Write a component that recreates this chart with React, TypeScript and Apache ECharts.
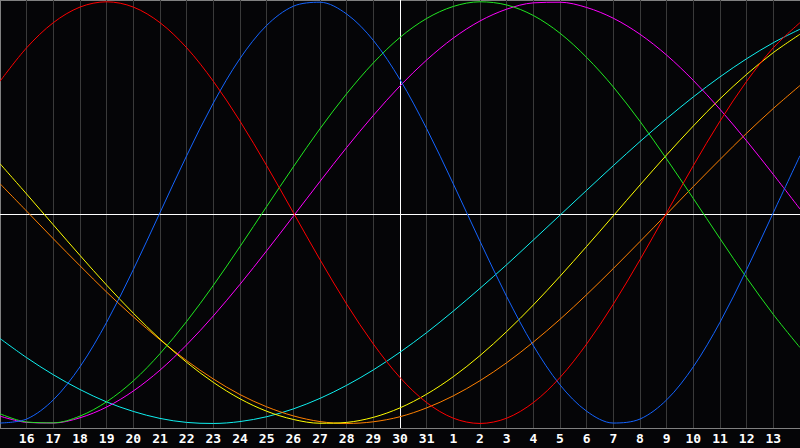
import React, { useEffect, useRef } from "react";
import * as echarts from "echarts";

const days = [
  "15", "16", "17", "18", "19", "20", "21", "22", "23", "24", "25", "26", "27", "28", "29", "30", "31",
  "1", "2", "3", "4", "5", "6", "7", "8", "9", "10", "11", "12", "13", "14",
];

const blueSeries = [
  -99.8, -97.9, -88.8, -73.1, -52.0, -27.0, 0, 27.0, 52.0, 73.1, 88.8, 97.9, 99.8, 94.2, 81.7, 63.1,
  39.8, 13.6, -13.6, -39.8, -63.1, -81.7, -94.2, -99.8, -97.9, -88.8, -73.1, -52.0, -27.0, 0, 27.0,
];
const redSeries = [
  62.3, 78.2, 90.1, 97.5, 100, 97.5, 90.1, 78.2, 62.3, 43.4, 22.3, 0, -22.3, -43.4, -62.3, -78.2,
  -90.1, -97.5, -100, -97.5, -90.1, -78.2, -62.3, -43.4, -22.3, 0, 22.3, 43.4, 62.3, 78.2, 90.1,
];
const greenSeries = [
  -95.4, -99.3, -99.7, -96.5, -89.7, -79.8, -66.9, -51.6, -34.5, -16.1, 2.9, 21.7, 39.8, 56.4, 71.0, 83.1,
  92.1, 97.8, 100.0, 98.5, 93.5, 85.1, 73.6, 59.6, 43.3, 25.4, 6.7, -12.3, -30.9, -48.3, -64.0,
];
const magentaSeries = [
  -96.5, -99.5, -99.8, -97.3, -92.2, -84.6, -74.7, -62.7, -49.0, -34.0, -18.1, -1.7, 14.8, 30.9, 46.1, 60.1,
  72.4, 82.8, 90.9, 96.5, 99.5, 99.8, 97.3, 92.2, 84.6, 74.7, 62.7, 49.0, 34.0, 18.1, 1.7,
];
const cyanSeries = [
  -59.7, -68.8, -76.9, -83.9, -89.8, -94.3, -97.6, -99.5, -100.0, -99.1, -96.8, -93.1, -88.1, -81.9, -74.6, -66.2,
  -56.9, -46.7, -35.9, -24.7, -13.0, -1.2, 10.6, 22.3, 33.7, 44.6, 54.9, 64.4, 73.0, 80.6, 87.0,
];
const yellowSeries = [
  23.2, 8.8, -5.8, -20.3, -34.4, -47.7, -60.0, -71.0, -80.5, -88.3, -94.2, -98.1, -99.9, -99.5, -97.1, -92.6,
  -86.1, -77.8, -67.8, -56.4, -43.8, -30.2, -16.0, -1.5, 13.1, 27.4, 41.1, 54.0, 65.6, 75.9, 84.6,
];
const orangeSeries = [
  13.7, 0.7, -12.4, -25.2, -37.7, -49.4, -60.3, -70.2, -78.9, -86.3, -92.1, -96.4, -99.1, -100.0, -99.2, -96.8,
  -92.6, -86.9, -79.7, -71.2, -61.4, -50.6, -38.9, -26.5, -13.7, -0.7, 12.4, 25.2, 37.7, 49.4, 60.3,
];

const seriesList = [
  { name: "cyan", data: cyanSeries, color: "#10f0f0" },
  { name: "orange", data: orangeSeries, color: "#ff8000" },
  { name: "yellow", data: yellowSeries, color: "#ffff00" },
  { name: "magenta", data: magentaSeries, color: "#ff00ff" },
  { name: "green", data: greenSeries, color: "#20e820" },
  { name: "blue", data: blueSeries, color: "#1464ff" },
  { name: "red", data: redSeries, color: "#ff0000" },
];

const TODAY_INDEX = 15;

export default function App() {
  const ref = useRef<HTMLDivElement>(null);

  useEffect(() => {
    document.body.style.margin = "0";
    const chart = echarts.init(ref.current!, null, { renderer: "svg" });
    const splitColors = days.map((_, i) =>
      i === 0 ? "#808080" : i === TODAY_INDEX ? "#ffffff" : "#3a3a3a"
    );
    chart.setOption({
      animation: false,
      backgroundColor: "#050507",
      grid: { left: 0, right: 0, top: 0, bottom: 20 },
      xAxis: {
        type: "category",
        data: days,
        boundaryGap: false,
        axisLine: { show: true, onZero: false, lineStyle: { color: "#808080", width: 1 } },
        axisTick: { show: false },
        axisLabel: {
          color: "#ffffff",
          fontFamily: "DejaVu Sans Mono",
          fontWeight: "bold",
          fontSize: 13,
          margin: 4,
          interval: (i: number) => i > 0 && i < days.length - 1,
        },
        splitLine: { show: true, interval: 0, lineStyle: { color: splitColors, width: 1 } },
      },
      yAxis: {
        type: "value",
        min: -102.15,
        max: 100.85,
        axisLine: { show: false },
        axisTick: { show: false },
        axisLabel: { show: false },
        splitLine: { show: false },
      },
      graphic: [
        {
          type: "line",
          shape: { x1: 0, y1: 0.5, x2: 800, y2: 0.5 },
          style: { stroke: "#808080", lineWidth: 1 },
          silent: true,
        },
      ],
      series: seriesList.map((s, idx) => ({
        type: "line",
        name: s.name,
        data: s.data,
        smooth: 0.33,
        symbol: "none",
        lineStyle: { color: s.color, width: 1 },
        itemStyle: { color: s.color },
        z: 3,
        markLine:
          idx === 0
            ? {
                silent: true,
                symbol: ["none", "none"],
                label: { show: false },
                lineStyle: { color: "#ffffff", type: "solid", width: 1 },
                data: [{ yAxis: -0.66 }],
                z: 2,
              }
            : undefined,
      })),
    });
    return () => chart.dispose();
  }, []);

  return (
    <div
      ref={ref}
      style={{ position: "fixed", left: 0, top: 0, width: 800, height: 448 }}
    />
  );
}
